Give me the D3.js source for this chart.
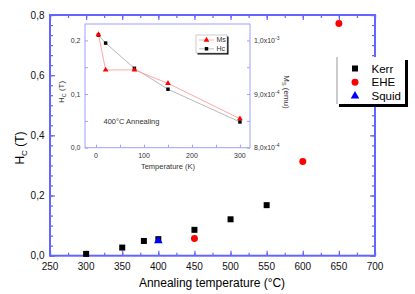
<!DOCTYPE html>
<html>
<head>
<meta charset="utf-8">
<script src="https://cdn.jsdelivr.net/npm/d3@7"></script>
<style>
  body { margin: 0; background: #fff; }
  text { font-family: "Liberation Sans", Arial, sans-serif; }
</style>
</head>
<body>
<div id="chart"></div>
<script>
// main plot: coercive field vs annealing temperature
const kerrT  = [300, 350, 380, 400, 450, 500, 550];
const kerrHc = [0.006, 0.027, 0.049, 0.055, 0.086, 0.121, 0.168];
const eheT   = [450, 600, 650];
const eheHc  = [0.057, 0.313, 0.772];
const squidT  = [400];
const squidHc = [0.05];
const xTicks = [250, 300, 350, 400, 450, 500, 550, 600, 650, 700];
const yTicks = [0, 0.2, 0.4, 0.6, 0.8];

// inset: 400°C annealed sample vs measuring temperature
const insetT  = [5, 20, 80, 150, 300];
const insetHc = [0.21, 0.195, 0.148, 0.109, 0.048];
const insetMs = [1.011e-3, 9.45e-4, 9.45e-4, 9.2e-4, 8.54e-4];
const insetXTicks = [0, 100, 200, 300];
const insetYTicks = [0, 0.1, 0.2];
const insetMsTicks = [8e-4, 9e-4, 1e-3];
const insetMsLabels = ["8,0x10", "9,0x10", "1,0x10"];
const insetMsExp = ["-4", "-4", "-3"];

const W = 415, H = 294;
const blue = "#6464ff";
const fmt = d => d3.format(".1f")(d).replace(".", ",");

const svg = d3.select("#chart").append("svg")
    .attr("width", W).attr("height", H);

// ---------- main axes ----------
const x = d3.scaleLinear().domain([250, 700]).range([50, 375]);
const y = d3.scaleLinear().domain([0, 0.8]).range([255.7, 15]);

const xMinor = d3.range(250, 701, 25);
const yMinor = d3.range(0, 31).map(i => i * 0.8 / 24);

const gAx = svg.append("g");
// bottom (ticks pointing up)
gAx.append("g").attr("transform", `translate(0,${y(0)})`)
    .call(d3.axisBottom(x).tickValues(xMinor).tickSize(-3).tickFormat(""))
    .call(g => g.select(".domain").remove());
gAx.append("g").attr("transform", `translate(0,${y(0)})`)
    .call(d3.axisBottom(x).tickValues(xTicks).tickSize(-5).tickFormat(""))
    .call(g => g.select(".domain").remove());
// top
gAx.append("g").attr("transform", `translate(0,${y(0.8)})`)
    .call(d3.axisTop(x).tickValues(xMinor).tickSize(-3).tickFormat(""))
    .call(g => g.select(".domain").remove());
gAx.append("g").attr("transform", `translate(0,${y(0.8)})`)
    .call(d3.axisTop(x).tickValues(xTicks).tickSize(-5).tickFormat(""))
    .call(g => g.select(".domain").remove());
// left
gAx.append("g").attr("transform", `translate(${x(250)},0)`)
    .call(d3.axisLeft(y).tickValues(yMinor.filter(v => v <= 0.8001)).tickSize(-3).tickFormat(""))
    .call(g => g.select(".domain").remove());
gAx.append("g").attr("transform", `translate(${x(250)},0)`)
    .call(d3.axisLeft(y).tickValues(yTicks).tickSize(-5).tickFormat(""))
    .call(g => g.select(".domain").remove());
// right
gAx.append("g").attr("transform", `translate(${x(700)},0)`)
    .call(d3.axisRight(y).tickValues(yMinor.filter(v => v <= 0.8001)).tickSize(-3).tickFormat(""))
    .call(g => g.select(".domain").remove());
gAx.append("g").attr("transform", `translate(${x(700)},0)`)
    .call(d3.axisRight(y).tickValues(yTicks).tickSize(-5).tickFormat(""))
    .call(g => g.select(".domain").remove());
gAx.selectAll(".tick line").attr("stroke", blue).attr("stroke-width", 1.2);

gAx.append("rect")
    .attr("x", x(250)).attr("y", y(0.8))
    .attr("width", x(700) - x(250)).attr("height", y(0) - y(0.8))
    .attr("fill", "none").attr("stroke", blue).attr("stroke-width", 2);

// tick labels
svg.append("g").selectAll("text").data(xTicks).join("text")
    .attr("x", d => x(d)).attr("y", 269.5)
    .attr("text-anchor", "middle").attr("font-size", 10).attr("fill", "#111")
    .text(d => d);
svg.append("g").selectAll("text").data(yTicks).join("text")
    .attr("x", 44.5).attr("y", d => y(d)).attr("dy", "0.35em")
    .attr("text-anchor", "end").attr("font-size", 10).attr("fill", "#111")
    .text(fmt);

// axis titles
svg.append("text")
    .attr("x", 212).attr("y", 287)
    .attr("text-anchor", "middle").attr("font-size", 12)
    .text("Annealing temperature (°C)");
const yt = svg.append("text")
    .attr("transform", "translate(24,148) rotate(-90)")
    .attr("text-anchor", "middle").attr("font-size", 12);
yt.append("tspan").text("H");
yt.append("tspan").attr("font-size", 8).attr("dy", 3).text("C");
yt.append("tspan").attr("dy", -3).text(" (T)");

// ---------- main data ----------
const sq = d3.symbol().type(d3.symbolSquare).size(36);
const ci = d3.symbol().type(d3.symbolCircle).size(38);
const tr = d3.symbol().type(d3.symbolTriangle).size(32);

svg.append("g").selectAll("path").data(kerrT).join("path")
    .attr("d", sq).attr("fill", "#000")
    .attr("transform", (d, i) => `translate(${x(d)},${y(kerrHc[i])})`);
svg.append("g").selectAll("path").data(eheT).join("path")
    .attr("d", ci).attr("fill", "#ff0000")
    .attr("transform", (d, i) => `translate(${x(d)},${y(eheHc[i])})`);
svg.append("g").selectAll("path").data(squidT).join("path")
    .attr("d", tr).attr("fill", "#0000ff")
    .attr("transform", (d, i) => `translate(${x(d)},${y(squidHc[i])})`);

// main legend
const lg = svg.append("g");
lg.append("rect").attr("x", 339).attr("y", 60).attr("width", 69).attr("height", 47).attr("fill", "#000");
lg.append("rect").attr("x", 337).attr("y", 57).attr("width", 68).attr("height", 47).attr("fill", "#fff");
lg.append("line").attr("x1", 337).attr("x2", 337).attr("y1", 57).attr("y2", 104)
    .attr("stroke", "#999").attr("stroke-width", 1);
const legItems = [
  { name: "Kerr", sym: sq, color: "#000" },
  { name: "EHE", sym: ci, color: "#ff0000" },
  { name: "Squid", sym: tr, color: "#0000ff" }
];
legItems.forEach((d, i) => {
  const yy = 68.5 + i * 13.7;
  lg.append("path").attr("d", d.sym).attr("fill", d.color)
      .attr("transform", `translate(355,${yy})`);
  lg.append("text").attr("x", 371.5).attr("y", yy).attr("dy", "0.36em")
      .attr("font-size", 11.5).text(d.name);
});

// ---------- inset ----------
const ix = d3.scaleLinear().domain([-23, 321]).range([85, 250]);
const iy = d3.scaleLinear().domain([0, 0.2306]).range([147.7, 24]);
const iyR = d3.scaleLinear().domain([8e-4, 8e-4 + 0.2306e-3]).range([147.7, 24]);
const lavender = "#a0a0ff";

const gi = svg.append("g");
gi.append("rect").attr("x", 85).attr("y", 24).attr("width", 165).attr("height", 123.7)
    .attr("fill", "#fff").attr("stroke", lavender).attr("stroke-width", 1);

gi.append("g").attr("transform", "translate(0,147.7)")
    .call(d3.axisBottom(ix).tickValues(d3.range(0, 301, 50)).tickSize(-3).tickFormat(""))
    .call(g => g.select(".domain").remove());
gi.append("g").attr("transform", "translate(85,0)")
    .call(d3.axisLeft(iy).tickValues(d3.range(0, 0.21, 0.05)).tickSize(-3).tickFormat(""))
    .call(g => g.select(".domain").remove());
gi.append("g").attr("transform", "translate(250,0)")
    .call(d3.axisRight(iyR).tickValues(d3.range(8e-4, 1.01e-3, 0.5e-4)).tickSize(-3).tickFormat(""))
    .call(g => g.select(".domain").remove());
gi.selectAll(".tick line").attr("stroke", lavender);

gi.append("g").selectAll("text").data(insetXTicks).join("text")
    .attr("x", d => ix(d)).attr("y", 157.5)
    .attr("text-anchor", "middle").attr("font-size", 7).attr("fill", "#333")
    .text(d => d);
gi.append("g").selectAll("text").data(insetYTicks).join("text")
    .attr("x", 80.5).attr("y", d => iy(d)).attr("dy", "0.35em")
    .attr("text-anchor", "end").attr("font-size", 7).attr("fill", "#333")
    .text(fmt);
const msl = gi.append("g").selectAll("text").data(insetMsTicks).join("text")
    .attr("x", 254).attr("y", d => iyR(d)).attr("dy", "0.35em")
    .attr("font-size", 7).attr("fill", "#333");
msl.append("tspan").text((d, i) => insetMsLabels[i]);
msl.append("tspan").attr("font-size", 5).attr("dy", -3).text((d, i) => insetMsExp[i]);

gi.append("text").attr("x", 168).attr("y", 169)
    .attr("text-anchor", "middle").attr("font-size", 7.5).attr("fill", "#333")
    .text("Temperature (K)");
const ihc = gi.append("text").attr("transform", "translate(63.5,92) rotate(-90)")
    .attr("text-anchor", "middle").attr("font-size", 8).attr("fill", "#333");
ihc.append("tspan").text("H");
ihc.append("tspan").attr("font-size", 5.5).attr("dy", 2).text("C");
ihc.append("tspan").attr("dy", -2).text(" (T)");
const ims = gi.append("text").attr("transform", "translate(284,92) rotate(90)")
    .attr("text-anchor", "middle").attr("font-size", 8).attr("fill", "#333");
ims.append("tspan").text("M");
ims.append("tspan").attr("font-size", 5.5).attr("dy", 2).text("S");
ims.append("tspan").attr("dy", -2).text(" (emu)");

gi.append("text").attr("x", 103.5).attr("y", 123.5)
    .attr("font-size", 7.5).attr("fill", "#333").text("400°C Annealing");

// inset lines and markers
const lineHc = d3.line().x((d, i) => ix(insetT[i])).y(d => iy(d));
const lineMs = d3.line().x((d, i) => ix(insetT[i])).y(d => iyR(d));
gi.append("path").attr("d", lineHc(insetHc)).attr("fill", "none")
    .attr("stroke", "#b0b0b0").attr("stroke-width", 0.9);
gi.append("path").attr("d", lineMs(insetMs)).attr("fill", "none")
    .attr("stroke", "#ff9c9c").attr("stroke-width", 0.9);

const isq = d3.symbol().type(d3.symbolSquare).size(12);
const itr = d3.symbol().type(d3.symbolTriangle).size(14);
gi.append("g").selectAll("path").data(insetHc).join("path")
    .attr("d", isq).attr("fill", "#000")
    .attr("transform", (d, i) => `translate(${ix(insetT[i])},${iy(d)})`);
gi.append("g").selectAll("path").data(insetMs).join("path")
    .attr("d", itr).attr("fill", "#ff0000")
    .attr("transform", (d, i) => `translate(${ix(insetT[i])},${iyR(d)})`);

// inset legend
const il = gi.append("g");
il.append("rect").attr("x", 197.5).attr("y", 36.5).attr("width", 31).attr("height", 18).attr("fill", "#000");
il.append("rect").attr("x", 196).attr("y", 35).attr("width", 31).attr("height", 18)
    .attr("fill", "#fff").attr("stroke", "#aaa").attr("stroke-width", 0.6);
[
  { name: "Ms", sym: itr, color: "#ff0000", line: "#ff9c9c" },
  { name: "Hc", sym: isq, color: "#000", line: "#b0b0b0" }
].forEach((d, i) => {
  const yy = 40 + i * 8.8;
  il.append("line").attr("x1", 199).attr("x2", 214).attr("y1", yy).attr("y2", yy)
      .attr("stroke", d.line).attr("stroke-width", 0.8);
  il.append("path").attr("d", d.sym).attr("fill", d.color)
      .attr("transform", `translate(206.5,${yy})`);
  il.append("text").attr("x", 216.5).attr("y", yy).attr("dy", "0.35em")
      .attr("font-size", 7).attr("fill", "#333").text(d.name);
});
</script>
</body>
</html>
